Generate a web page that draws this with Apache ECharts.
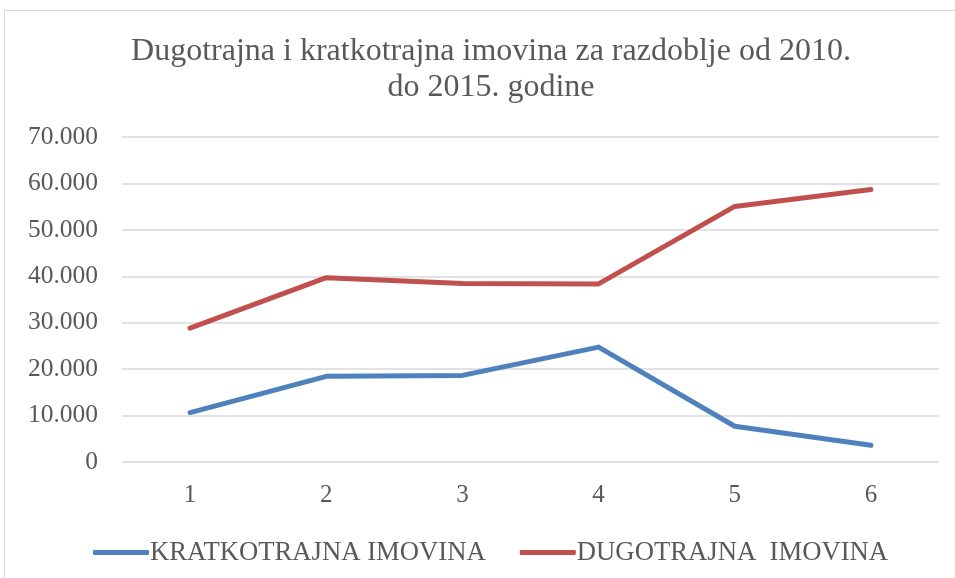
<!DOCTYPE html>
<html>
<head>
<meta charset="utf-8">
<script src="https://cdn.jsdelivr.net/npm/echarts@6/dist/echarts.min.js"></script>
<style>
  html, body { margin: 0; padding: 0; background: #fff; }
  #chart { width: 955px; height: 578px; }
</style>
</head>
<body>
<div id="chart"></div>
<script>
var categories = ['1', '2', '3', '4', '5', '6']
var kratkotrajna = [10650, 18450, 18650, 24750, 7700, 3600]
var dugotrajna = [28850, 39700, 38450, 38350, 55050, 58700]
var yTicks = [0, 10000, 20000, 30000, 40000, 50000, 60000, 70000]

var txt = '#595959'
var serif = '"Liberation Serif", "Times New Roman", serif'

function fmt (v) {
    if (v === 0) return '0'
    return String(v).replace(/\B(?=(\d{3})+(?!\d))/g, '.')
}

var myChart = echarts.init(document.getElementById('chart'))
var option = {
    animation: false,
    graphic: [{
        type: 'rect',
        shape: { x: 4.5, y: 10.5, width: 1000, height: 1000 },
        style: { fill: 'none', stroke: '#d9d9d9', lineWidth: 1 },
        silent: true
    }],
    title: {
        text: 'Dugotrajna i kratkotrajna imovina za razdoblje od 2010.\ndo 2015. godine',
        left: 486,
        top: 29,
        textAlign: 'center',
        textStyle: {
            fontFamily: serif,
            fontSize: 32,
            fontWeight: 'normal',
            color: txt,
            lineHeight: 36
        }
    },
    legend: {
        left: 88,
        top: 534,
        itemWidth: 56,
        itemHeight: 5,
        itemGap: 34,
        icon: 'roundRect',
        textStyle: { fontFamily: serif, fontSize: 26.7, color: txt, padding: [0, 0, 0, -4] },
        data: ['KRATKOTRAJNA IMOVINA', 'DUGOTRAJNA  IMOVINA']
    },
    grid: { left: 122, right: 16, top: 137, bottom: 116 },
    xAxis: {
        type: 'category',
        data: categories,
        boundaryGap: true,
        axisLine: { show: false },
        axisTick: { show: false },
        axisLabel: { fontFamily: serif, fontSize: 25, color: txt, margin: 21 }
    },
    yAxis: {
        type: 'value',
        min: yTicks[0],
        max: yTicks[yTicks.length - 1],
        interval: 10000,
        axisLine: { show: false },
        axisTick: { show: false },
        splitLine: { lineStyle: { color: '#d9d9d9', width: 1.5 } },
        axisLabel: { fontFamily: serif, fontSize: 25.5, color: txt, margin: 24, formatter: fmt }
    },
    series: [{
        name: 'KRATKOTRAJNA IMOVINA',
        type: 'line',
        data: kratkotrajna,
        symbol: 'none',
        color: '#4f81bd',
        lineStyle: { width: 5, cap: 'round', join: 'round' }
    }, {
        name: 'DUGOTRAJNA  IMOVINA',
        type: 'line',
        data: dugotrajna,
        symbol: 'none',
        color: '#c0504d',
        lineStyle: { width: 5, cap: 'round', join: 'round' }
    }]
}
myChart.setOption(option)
</script>
</body>
</html>
